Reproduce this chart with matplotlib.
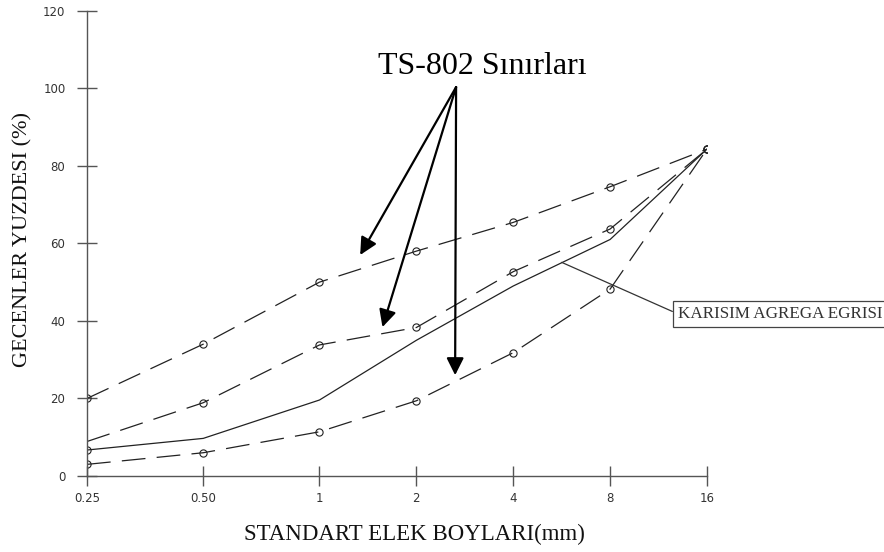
import matplotlib
matplotlib.use('Agg')
import matplotlib.pyplot as plt

sieve_labels = ['0.25', '0.50', '1', '2', '4', '8', '16']
# the original x axis is not evenly spaced (first two gaps are wider)
sieve_pos = [0, 1.2, 2.4, 3.4, 4.4, 5.4, 6.4]

upper_limit = [20, 34, 50, 58, 65.4, 74.6, 84.3]
middle_limit = [8.9, 18.9, 33.8, 38.3, 52.7, 63.7, 84.3]
lower_limit = [3.0, 6.0, 11.4, 19.4, 31.8, 48.2, 84.3]
mix_curve = [6.7, 9.7, 19.6, 35, 49, 61, 84.3]

y_ticks = [0, 20, 40, 60, 80, 100, 120]

serif = 'Liberation Serif'
axis_grey = '#555555'
line_col = '#222222'

fig = plt.figure(figsize=(8.84, 5.52), dpi=100)
ax = fig.add_axes([87 / 884, 1 - 476 / 552, 620 / 884, 465.3 / 552])

dash = (19, 9)
mk = dict(marker='o', markersize=5.2, mfc='none', mec=line_col, mew=0.8)
ax.plot(sieve_pos, upper_limit, color=line_col, lw=0.9, dashes=dash, **mk)
ax.plot(sieve_pos, middle_limit, color=line_col, lw=0.9, dashes=dash,
        markevery=list(range(1, 7)), **mk)
ax.plot(sieve_pos, lower_limit, color=line_col, lw=0.9, dashes=dash, **mk)
ax.plot(sieve_pos, mix_curve, color=line_col, lw=0.9, markevery=[0], **mk)

ax.set_xlim(0, 6.4)
ax.set_ylim(0, 120)
ax.set_xticks(sieve_pos)
ax.set_xticklabels(sieve_labels)
ax.set_yticks(y_ticks)
for s in ['top', 'right']:
    ax.spines[s].set_visible(False)
for s in ['left', 'bottom']:
    ax.spines[s].set_color(axis_grey)
    ax.spines[s].set_linewidth(1)
ax.tick_params(direction='inout', length=15, width=1, color=axis_grey,
               labelcolor='#333333', labelsize=8.5)
ax.tick_params(axis='x', pad=4)
ax.tick_params(axis='y', pad=8)

fig.text(23 / 884, 1 - 240 / 552, 'GECENLER YUZDESI (%)', rotation=90,
         ha='center', va='center', family=serif, fontsize=16, color='#111111')
fig.text(414 / 884, 1 - 534 / 552, 'STANDART ELEK BOYLARI(mm)',
         ha='center', va='center', family=serif, fontsize=16.5, color='#111111')

# TS-802 arrows
ax.text(4.08, 105.5, 'TS-802 Sınırları', ha='center', va='center',
        family=serif, fontsize=23, color='black')
origin = (3.81, 100.3)
for tip in [(2.82, 57.0), (3.05, 38.4), (3.80, 26.0)]:
    ax.annotate('', xy=tip, xytext=origin, annotation_clip=False,
                arrowprops=dict(arrowstyle='-|>', lw=1.6, color='black',
                                mutation_scale=26, shrinkA=0, shrinkB=0))

# mix curve label
ax.annotate('KARISIM AGREGA EGRISI', xy=(4.90, 55.1), xytext=(6.10, 41.8),
            ha='left', va='center', family=serif, fontsize=12.3, color='#333333',
            annotation_clip=False,
            bbox=dict(boxstyle='square,pad=0.3', fc='white', ec='#444444', lw=0.9),
            arrowprops=dict(arrowstyle='-', color='#333333', lw=0.9,
                            shrinkA=0, shrinkB=0, relpos=(0, 0.5)))

fig.savefig('out.png', dpi=100)
